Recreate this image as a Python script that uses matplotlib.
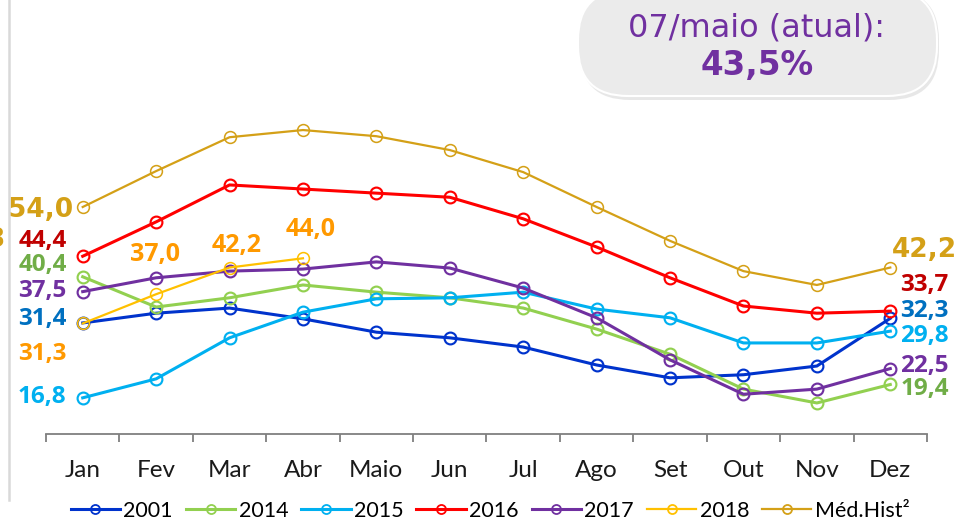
import matplotlib
matplotlib.use('Agg')
import matplotlib.pyplot as plt
from matplotlib.patches import FancyBboxPatch
from matplotlib.lines import Line2D

# ---------------- data ----------------
months = ['Jan', 'Fev', 'Mar', 'Abr', 'Maio', 'Jun', 'Jul', 'Ago', 'Set', 'Out', 'Nov', 'Dez']
series_names = ['2001', '2014', '2015', '2016', '2017', '2018', 'Méd.Hist²']
v2001 = [31.4, 33.3, 34.3, 32.2, 29.6, 28.5, 26.7, 23.2, 20.7, 21.3, 23.0, 32.3]
v2014 = [40.4, 34.5, 36.3, 38.8, 37.4, 36.3, 34.3, 30.2, 25.3, 18.5, 15.8, 19.4]
v2015 = [16.8, 20.5, 28.5, 33.5, 36.1, 36.3, 37.4, 34.1, 32.4, 27.5, 27.5, 29.8]
v2016 = [44.4, 51.1, 58.3, 57.5, 56.7, 55.9, 51.7, 46.2, 40.2, 34.7, 33.3, 33.7]
v2017 = [37.5, 40.2, 41.5, 41.9, 43.3, 42.1, 38.2, 32.4, 24.2, 17.5, 18.5, 22.5]
v2018 = [31.3, 37.0, 42.2, 44.0]
vhist = [54.0, 61.0, 67.6, 69.0, 67.8, 65.1, 60.8, 54.0, 47.4, 41.5, 38.8, 42.2]
box_title = '07/maio (atual):'
box_value = '43,5%'

series_values = [v2001, v2014, v2015, v2016, v2017, v2018, vhist]
line_colors = ['#0033CC', '#92D050', '#00B0F0', '#FF0000', '#7030A0', '#FFC000', '#D4A017']
label_colors = ['#0070C0', '#70AD47', '#00B0F0', '#C00000', '#7030A0', '#FF9900', '#D4A017']
line_widths = [2.2, 2.2, 2.2, 2.2, 2.2, 1.6, 1.6]

# label offsets in pixels (dx, dy up)
first_off = [(-16, 4), (-16, 12), (-16, 1), (-16, 15), (-16, 1), (-16, -31), (-10, -3)]
last_off = [(10, 7), (10, -5), (10, -5), (10, 26), (10, 3), None, (2, 18)]
mid_off_2018 = {1: (-1, 40), 2: (7, 22), 3: (8, 29)}

fmt = lambda v: f"{v:.1f}".replace('.', ',')
LBL_FONT = ['Open Sans', 'DejaVu Sans']
LEG_FONT = ['Lato', 'DejaVu Sans']

W, H, DPI = 956, 526, 100
fig = plt.figure(figsize=(W / DPI, H / DPI), dpi=DPI)
fig.patch.set_facecolor('white')

ax = fig.add_axes([46 / W, (H - 434) / H, 881 / W, 434 / H])
ax.set_xlim(-0.5, 11.5)
ax.set_ylim(9.75, 94.35)
ax.patch.set_alpha(0)
for s in ['left', 'right', 'top']:
    ax.spines[s].set_visible(False)
ax.spines['bottom'].set_color('#7F7F7F')
ax.spines['bottom'].set_linewidth(1.3)
ax.set_yticks([])
ax.set_xticks([i - 0.5 for i in range(13)])
ax.set_xticklabels([])
ax.tick_params(axis='x', which='major', length=6, width=1.3, color='#7F7F7F', direction='out')
ax.set_xticks(range(12), minor=True)
ax.set_xticklabels(months, minor=True, fontfamily='Lato', fontsize=17.5, color='#1a1a1a')
ax.tick_params(axis='x', which='minor', length=0, pad=19)

for name, vals, lc, tc, lw, fo, lo in zip(series_names, series_values, line_colors,
                                           label_colors, line_widths, first_off, last_off):
    xs = list(range(len(vals)))
    ax.plot(xs, vals, color=lc, lw=lw, marker='o', markersize=8.5,
            markerfacecolor='none', markeredgecolor=lc, markeredgewidth=lw * 0.7,
            clip_on=False, zorder=3)
    big = name.startswith('Méd')
    fam = ['DejaVu Sans'] if big else LBL_FONT
    fs = 19 if big else 17.5
    ax.annotate(fmt(vals[0]), xy=(0, vals[0]), xytext=fo, textcoords='offset pixels',
                ha='right', va='center', fontsize=fs, fontweight='bold', color=tc,
                family=fam, annotation_clip=False)
    if lo is not None:
        ax.annotate(fmt(vals[-1]), xy=(len(vals) - 1, vals[-1]), xytext=lo,
                    textcoords='offset pixels', ha='left', va='center', fontsize=fs,
                    fontweight='bold', color=tc, family=fam, annotation_clip=False)
    if name == '2018':
        for i, off in mid_off_2018.items():
            ax.annotate(fmt(vals[i]), xy=(i, vals[i]), xytext=off, textcoords='offset pixels',
                        ha='center', va='center', fontsize=18, fontweight='bold',
                        color=tc, family=LBL_FONT, annotation_clip=False)

handles = [Line2D([], [], color=lc, lw=lw, marker='o', markersize=6.5,
                  markerfacecolor='none', markeredgecolor=lc, markeredgewidth=1.3)
           for lc, lw in zip(line_colors, line_widths)]
fig.legend(handles, series_names, loc='center', bbox_to_anchor=(0.5126, 1 - 511 / H),
           ncol=7, frameon=False, handlelength=2.3, handletextpad=0.15,
           columnspacing=0.6, prop={'family': LEG_FONT, 'size': 15.5})

# overlay in pixel coordinates
ov = fig.add_axes([0, 0, 1, 1], zorder=5)
ov.set_xlim(0, W)
ov.set_ylim(H, 0)
ov.axis('off')
ov.patch.set_alpha(0)
ov.plot([9, 9], [0, 500], color='#D9D9D9', lw=1.8)
ov.text(5, 240, '3', ha='right', va='center', fontsize=19, fontweight='bold', color='#D4A017')

shadow = FancyBboxPatch((580, -10), 359, 110, boxstyle='round,pad=0,rounding_size=50',
                        facecolor='#D0D0D0', edgecolor='none', alpha=0.5)
ov.add_patch(shadow)
box = FancyBboxPatch((578, -10), 359, 106, boxstyle='round,pad=0,rounding_size=50',
                     facecolor='#EBEBEB', edgecolor='white', linewidth=1.5)
ov.add_patch(box)
ov.text(757, 28, box_title, ha='center', va='center', fontsize=23, color='#7030A0')
ov.text(757, 65, box_value, ha='center', va='center', fontsize=23.5, fontweight='bold',
        color='#7030A0')

fig.savefig('out.png', dpi=DPI)
